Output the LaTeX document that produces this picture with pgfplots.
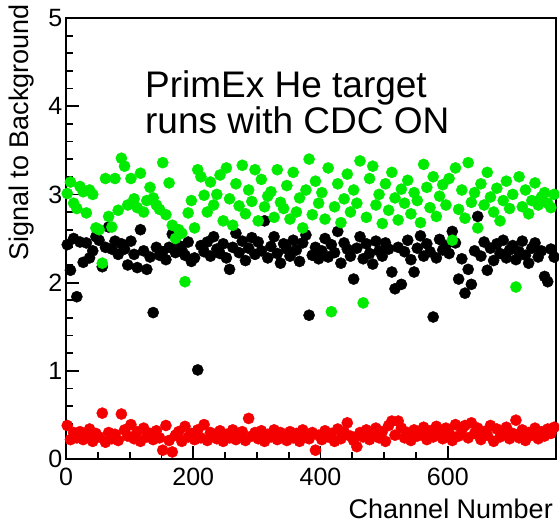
\documentclass[border=0pt]{standalone}
\usepackage{fontspec}
\setmainfont{Liberation Sans}
\usepackage{pgfplots}
\usepackage{pgfplotstable}
\pgfplotsset{compat=1.18}

\definecolor{rootgreen}{RGB}{0,235,0}
\definecolor{rootred}{RGB}{245,0,0}

% signal-to-background ratio per channel, three configurations
\pgfplotstableread{
ch  black green red
2   2.43  3.01  0.38
7   2.14  3.14  0.22
12  2.50  2.90  0.30
17  1.84  2.84  0.24
22  2.46  3.09  0.31
27  2.23  3.03  0.22
32  2.45  2.79  0.27
37  2.28  3.05  0.34
42  2.36  3.00  0.20
47  2.52  2.62  0.29
52  2.48  2.60  0.25
57  2.18  2.22  0.52
62  2.40  3.18  0.19
67  2.63  2.75  0.30
72  2.38  2.63  0.23
77  2.47  3.18  0.28
82  2.32  2.82  0.21
87  2.44  3.41  0.51
92  2.38  3.32  0.33
97  2.20  2.88  0.26
102 2.47  3.18  0.39
107 2.32  2.95  0.23
112 2.17  2.85  0.31
117 2.60  3.24  0.20
122 2.36  2.80  0.35
127 2.15  2.93  0.25
132 2.29  3.08  0.29
137 1.66  2.96  0.22
142 2.40  2.88  0.32
147 2.31  2.83  0.24
152 2.35  3.36  0.10
157 2.26  2.77  0.38
162 2.40  3.13  0.21
167 2.55  2.65  0.08
172 2.34  2.50  0.27
177 2.42  2.60  0.31
182 2.37  2.56  0.20
187 2.31  2.01  0.37
192 2.46  2.79  0.25
197 2.24  2.93  0.29
202 2.28  2.62  0.22
207 1.01  3.28  0.33
212 2.42  3.20  0.24
217 2.35  2.99  0.39
222 2.46  2.80  0.21
227 2.30  3.14  0.30
232 2.52  2.88  0.26
237 2.38  3.00  0.23
242 2.33  3.22  0.32
247 2.44  2.70  0.20
252 2.28  3.30  0.28
257 2.15  2.95  0.24
262 2.40  2.65  0.33
267 2.56  3.12  0.22
272 2.34  2.87  0.29
277 2.47  3.33  0.31
282 2.25  2.78  0.21
287 2.39  3.05  0.46
292 2.51  2.92  0.26
297 2.32  3.28  0.30
302 2.46  2.70  0.23
307 2.36  3.17  0.32
312 2.70  2.86  0.20
317 2.28  2.98  0.28
322 2.41  3.03  0.25
327 2.52  2.74  0.33
332 2.33  3.28  0.22
337 2.22  2.91  0.30
342 2.44  2.84  0.27
347 2.38  3.10  0.21
352 2.30  2.72  0.31
357 2.48  3.25  0.24
362 2.37  2.80  0.29
367 2.24  2.96  0.20
372 2.45  2.62  0.33
377 2.54  3.05  0.26
382 1.63  3.40  0.23
387 2.31  2.77  0.30
392 2.40  3.15  0.10
397 2.27  2.90  0.27
402 2.36  3.02  0.22
407 2.50  2.72  0.32
412 2.29  3.30  0.25
417 2.43  1.67  0.29
422 2.34  2.86  0.20
427 2.58  3.12  0.34
432 2.22  2.68  0.23
437 2.45  2.95  0.31
442 2.38  3.23  0.41
447 2.30  2.80  0.26
452 2.04  3.05  0.21
457 2.39  2.90  0.14
462 2.52  3.38  0.30
467 2.27  1.77  0.25
472 2.44  2.74  0.33
477 2.33  3.18  0.22
482 2.21  3.32  0.28
487 2.47  2.88  0.35
492 2.36  3.00  0.24
497 2.30  2.67  0.31
502 2.45  3.12  0.20
507 2.38  2.82  0.38
512 2.12  3.25  0.43
517 1.93  2.96  0.27
522 2.40  2.71  0.43
527 1.98  3.06  0.35
532 2.35  2.90  0.24
537 2.48  3.16  0.30
542 2.26  2.78  0.21
547 2.12  3.02  0.33
552 2.39  2.93  0.26
557 2.53  2.68  0.29
562 2.30  3.34  0.36
567 2.44  3.08  0.22
572 2.35  2.85  0.32
577 1.61  3.20  0.25
582 2.28  2.75  0.37
587 2.49  2.98  0.28
592 2.37  3.11  0.23
597 2.42  2.88  0.35
602 2.33  3.18  0.30
607 2.58  2.48  0.21
612 2.45  3.30  0.39
617 2.04  2.83  0.26
622 2.27  3.05  0.33
627 1.88  2.73  0.38
632 2.15  3.36  0.24
637 1.98  2.91  0.41
642 2.36  3.02  0.29
647 2.75  2.62  0.35
652 2.30  3.12  0.22
657 2.46  2.88  0.31
662 2.14  3.25  0.27
667 2.39  2.97  0.38
672 2.25  2.80  0.20
677 2.44  3.07  0.34
682 2.33  2.70  0.25
687 2.48  2.93  0.30
692 2.28  3.15  0.36
697 2.37  2.84  0.23
702 2.42  3.00  0.29
707 2.26  1.95  0.44
712 2.35  3.20  0.24
717 2.47  2.86  0.33
722 2.31  3.05  0.21
727 2.22  2.78  0.30
732 2.39  2.93  0.27
737 2.45  3.13  0.35
742 2.29  2.88  0.23
747 2.36  2.97  0.31
752 2.07  3.02  0.26
757 2.01  2.90  0.34
762 2.38  2.85  0.29
767 2.29  3.00  0.36
}\sbtable

\begin{document}
\begin{tikzpicture}
\begin{axis}[
  scale only axis,
  width=490pt, height=441pt,
  xmin=0, xmax=770, ymin=0, ymax=5,
  xtick={0,200,400,600}, ytick={0,1,2,3,4,5},
  minor x tick num=3, minor y tick num=4,
  tick pos=left, tick align=inside,
  major tick length=13pt, minor tick length=7pt,
  axis line style={line width=1.8pt},
  every tick/.style={black, line width=1.8pt},
  /pgf/number format/assume math mode=true,
  ticklabel style={font=\fontsize{25}{30}\selectfont},
  xticklabel style={anchor=north, inner sep=0pt, yshift=-9pt},
  yticklabel style={anchor=east, inner sep=0pt, xshift=-3.5pt},
  xlabel={Channel Number},
  ylabel={Signal to Background},
  label style={font=\fontsize{27}{32}\selectfont, inner sep=0pt},
  xlabel style={at={(axis description cs:0.9939,-0.1338)}, anchor=base east},
  ylabel style={at={(axis description cs:-0.0775,1.0317)}, anchor=base east},
  clip=false,
]
\addplot[only marks, mark=*, mark size=5.6pt, color=black] table[x=ch, y=black] {\sbtable};
\addplot[only marks, mark=*, mark size=5.6pt, color=rootgreen] table[x=ch, y=green] {\sbtable};
\addplot[only marks, mark=*, mark size=5.6pt, color=rootred] table[x=ch, y=red] {\sbtable};
\node[anchor=base west, inner sep=0pt, font=\fontsize{37}{41}\selectfont] at (axis cs:124,4.10) {PrimEx He target};
\node[anchor=base west, inner sep=0pt, font=\fontsize{37}{41}\selectfont] at (axis cs:124,3.69) {runs with CDC ON};
\end{axis}
\pgfresetboundingbox
\useasboundingbox ([xshift=-66pt,yshift=-68pt]current axis.south west) rectangle ([xshift=3pt,yshift=18pt]current axis.north east);
\end{tikzpicture}
\end{document}
